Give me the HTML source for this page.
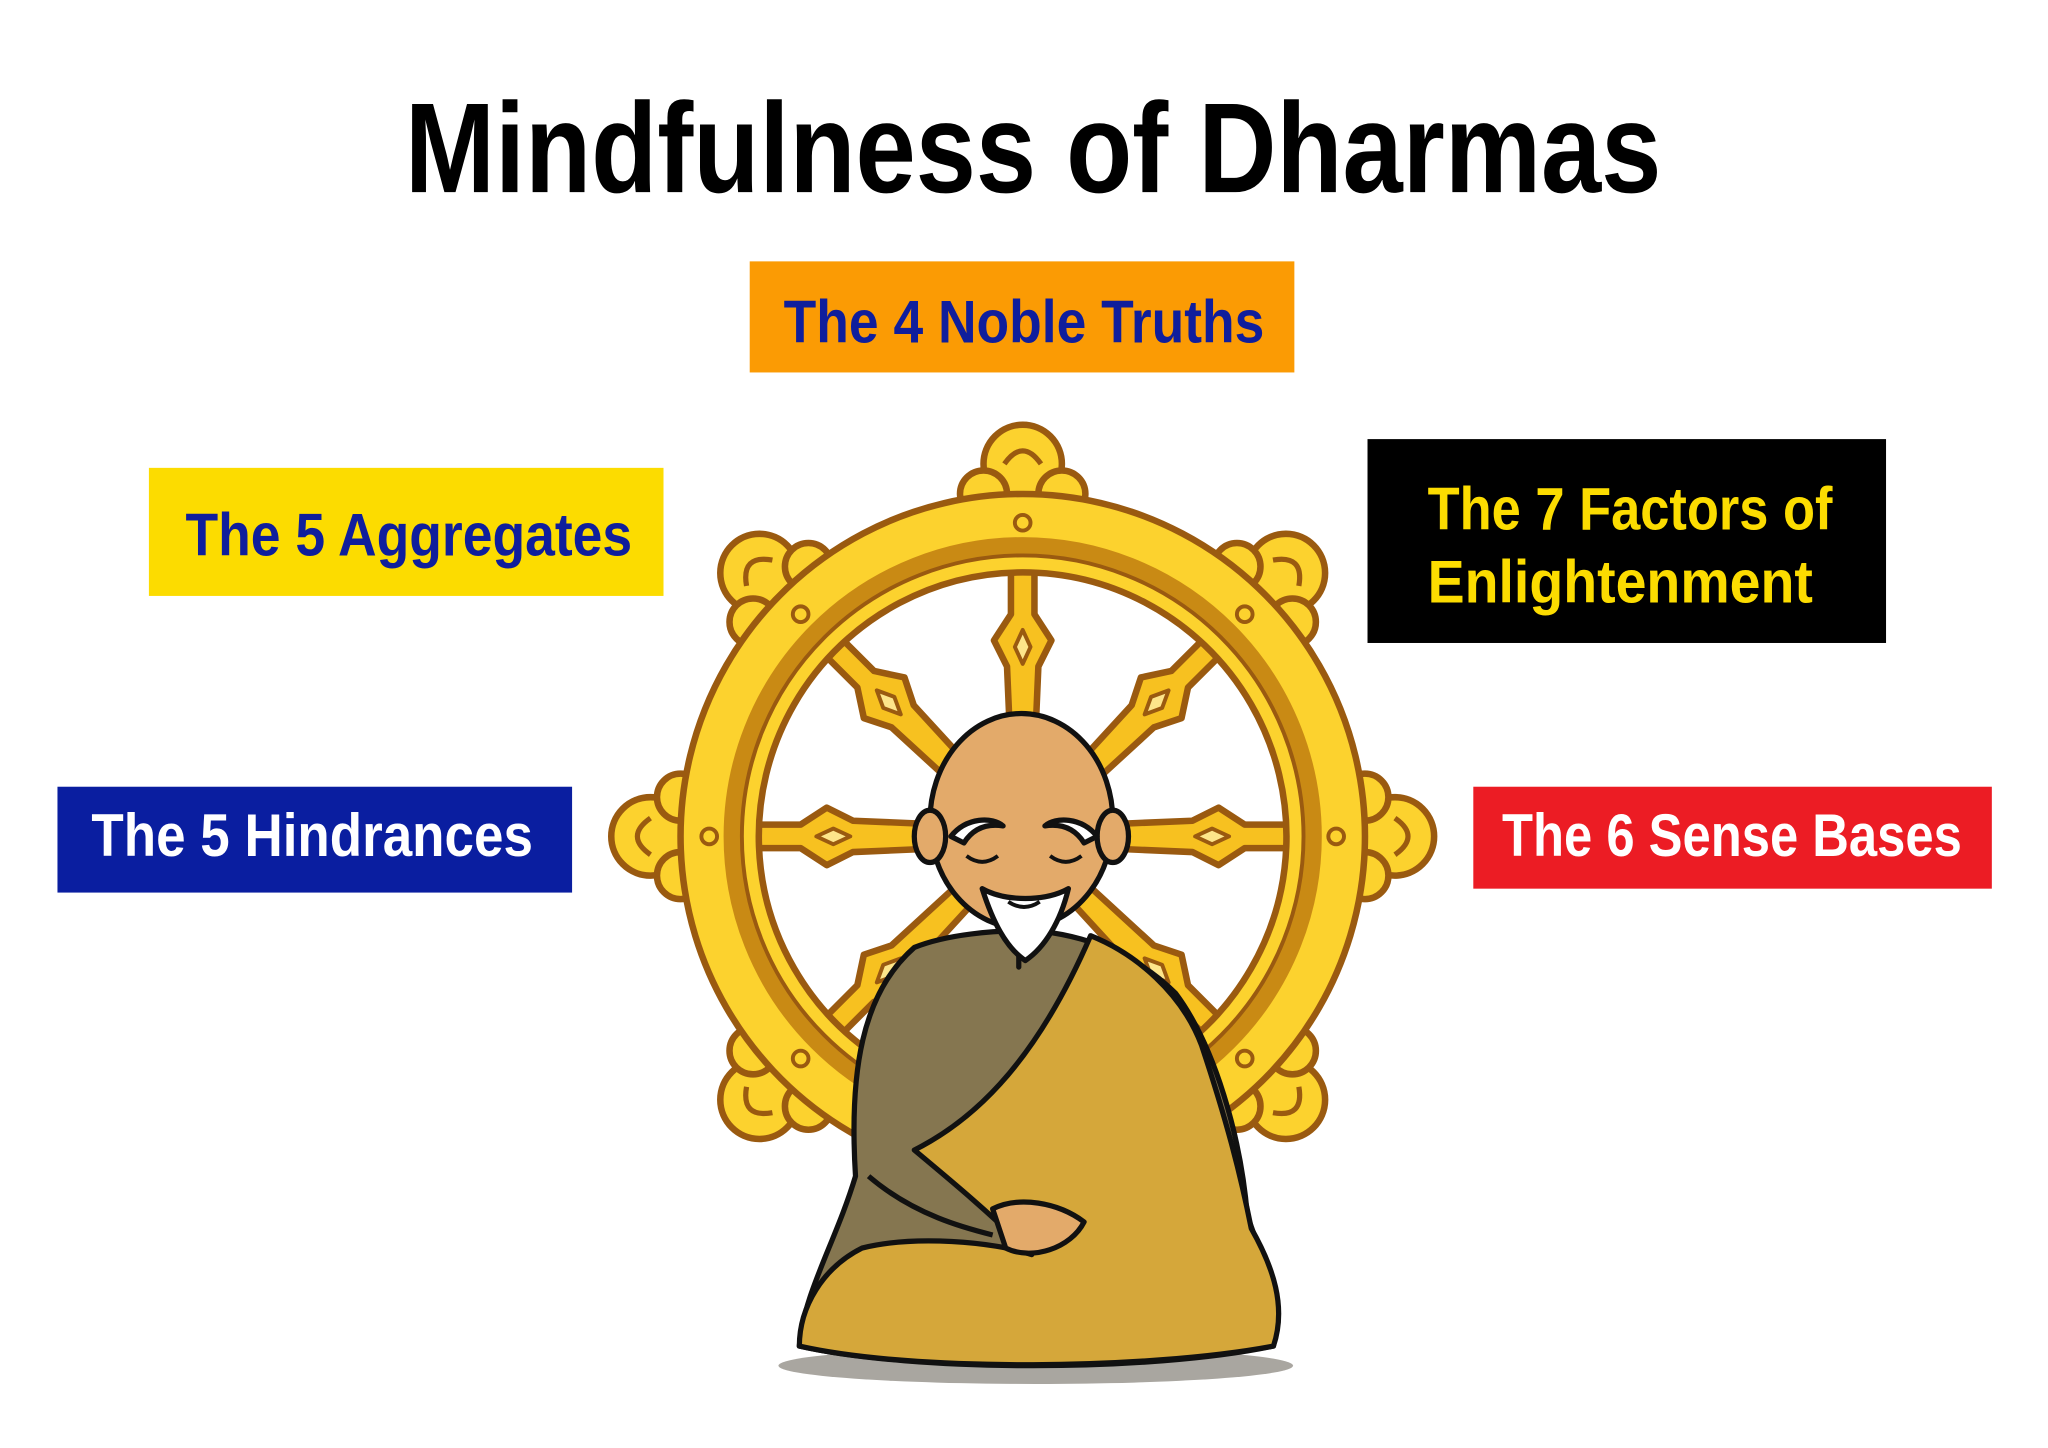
<!DOCTYPE html>
<html><head><meta charset="utf-8"><style>
html,body{margin:0;padding:0;background:#fff}
svg{display:block}
text{font-family:"Liberation Sans","DejaVu Sans",sans-serif;font-weight:bold}
</style></head><body>
<svg width="2048" height="1448" viewBox="0 0 1568 1108" preserveAspectRatio="none" xmlns="http://www.w3.org/2000/svg">
<rect width="1568" height="1108" fill="#fff"/>
<text x="310" y="147" font-size="98" textLength="962" lengthAdjust="spacingAndGlyphs" fill="#000">Mindfulness of Dharmas</text>

<rect x="574" y="200" width="417" height="85" fill="#fb9b04"/>
<text x="600" y="262" font-size="46" textLength="368" lengthAdjust="spacingAndGlyphs" fill="#0f1e9c">The 4 Noble Truths</text>
<rect x="114" y="358" width="394" height="98" fill="#fcdc00"/>
<text x="142" y="425" font-size="46" textLength="342" lengthAdjust="spacingAndGlyphs" fill="#0f1e9c">The 5 Aggregates</text>
<rect x="1047" y="336" width="397" height="156" fill="#000"/>
<text x="1093" y="405" font-size="46" textLength="310" lengthAdjust="spacingAndGlyphs" fill="#fcdc00">The 7 Factors of</text>
<text x="1093" y="461" font-size="46" textLength="295" lengthAdjust="spacingAndGlyphs" fill="#fcdc00">Enlightenment</text>
<rect x="44" y="602" width="394" height="81" fill="#0a1ea0"/>
<text x="70" y="655" font-size="46" textLength="338" lengthAdjust="spacingAndGlyphs" fill="#fff">The 5 Hindrances</text>
<rect x="1128" y="602" width="397" height="78" fill="#ec1c24"/>
<text x="1150" y="655" font-size="46" textLength="352" lengthAdjust="spacingAndGlyphs" fill="#fff">The 6 Sense Bases</text>

<!-- wheel -->
<g transform="translate(783,640)" stroke="#9a5a10" stroke-width="5" stroke-linejoin="round">
  <!-- ornaments -->
  <g fill="#fcd22e">
    <g id="orn"><circle cx="0" cy="-285" r="30"/><circle cx="-30" cy="-262" r="18"/><circle cx="30" cy="-262" r="18"/><path d="M-14,-285 Q0,-305 14,-285" fill="none" stroke-width="4"/></g>
    <use href="#orn" transform="rotate(45)"/><use href="#orn" transform="rotate(90)"/><use href="#orn" transform="rotate(135)"/>
    <use href="#orn" transform="rotate(225)"/><use href="#orn" transform="rotate(270)"/><use href="#orn" transform="rotate(315)"/>
  </g>
  <!-- spokes -->
  <g fill="#f7c120">
    <g id="sp"><path d="M-9,-205 L-9,-170 L-22,-150 L-12,-130 L-9,-60 L9,-60 L12,-130 L22,-150 L9,-170 L9,-205 Z"/><path d="M0,-158 L6,-145 L0,-132 L-6,-145Z" fill="#fde58a" stroke-width="3"/></g>
    <use href="#sp" transform="rotate(45)"/><use href="#sp" transform="rotate(90)"/><use href="#sp" transform="rotate(135)"/>
    <use href="#sp" transform="rotate(180)"/><use href="#sp" transform="rotate(225)"/><use href="#sp" transform="rotate(270)"/><use href="#sp" transform="rotate(315)"/>
  </g>
  <!-- rim -->
  <path d="M0,-262 A262,262 0 1,0 0.1,-262 Z M0,-202 A202,202 0 1,1 -0.1,-202 Z" fill="#fcd22e" fill-rule="evenodd"/>
  <circle r="222" fill="none" stroke="#c98a14" stroke-width="14"/>
  <circle r="215" fill="none" stroke="#9a5a10" stroke-width="3"/>
  <g fill="#fcd22e" stroke-width="3">
    <circle cx="0" cy="-240" r="6"/><circle cx="240" cy="0" r="6"/><circle cx="-240" cy="0" r="6"/>
    <circle cx="170" cy="-170" r="6"/><circle cx="-170" cy="-170" r="6"/><circle cx="170" cy="170" r="6"/><circle cx="-170" cy="170" r="6"/>
  </g>
</g>

<!-- monk -->
<ellipse cx="793" cy="1045" rx="197" ry="14" fill="#a9a6a0"/>
<g stroke="#111" stroke-width="4" stroke-linejoin="round">
  <path d="M700,725 C660,760 650,820 655,900 C640,950 615,990 612,1030 C700,1050 880,1050 975,1030 C980,990 965,960 955,930 C950,870 930,800 900,760 C870,730 830,715 790,712 C760,712 725,715 700,725 Z" fill="#857650"/>
  <path d="M835,716 C870,730 905,760 920,800 C940,860 950,900 958,940 C975,970 985,1000 975,1030 C880,1048 700,1050 612,1030 C612,1000 630,970 660,955 C700,945 760,950 790,960 C760,930 730,905 700,880 C740,860 790,820 835,716 Z" fill="#d5a73a"/>
  <path d="M665,900 C700,930 740,940 760,945" fill="none"/>
  <path d="M780,720 L780,740 Z" fill="none"/>
  <path d="M760,925 C780,915 810,920 830,935 C820,955 790,965 770,955 Z" fill="#e3aa6a"/>
  <ellipse cx="782" cy="628" rx="70" ry="82" fill="#e3aa6a"/>
  <ellipse cx="712" cy="640" rx="12" ry="20" fill="#e3aa6a"/>
  <ellipse cx="852" cy="640" rx="12" ry="20" fill="#e3aa6a"/>
  <path d="M752,680 C760,705 770,725 785,735 C800,725 812,705 818,680 C800,690 770,690 752,680 Z" fill="#fff"/>
  <path d="M728,640 C740,625 760,625 768,632 C755,630 745,634 738,645 Z" fill="#fff"/>
  <path d="M840,640 C828,625 808,625 800,632 C813,630 823,634 830,645 Z" fill="#fff"/>
  <path d="M740,655 Q752,664 764,655 M804,655 Q816,664 828,655" fill="none" stroke-width="3"/>
  <path d="M772,690 Q784,698 796,690" fill="none" stroke-width="3"/>
</g>
</svg>
</body></html>
